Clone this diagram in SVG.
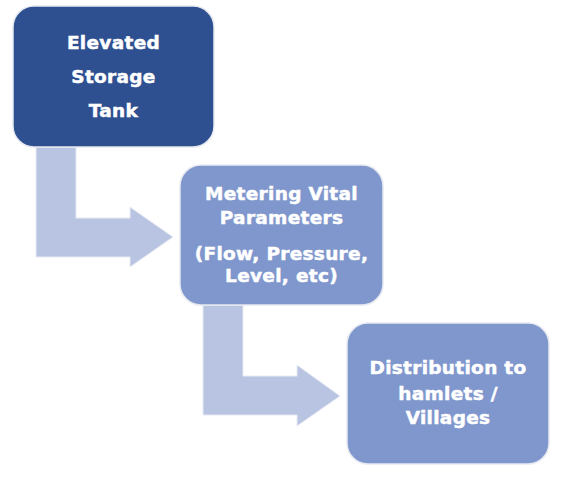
<svg xmlns="http://www.w3.org/2000/svg" width="585" height="477" viewBox="0 0 585 477">
<style>
.box{stroke:#e6e9f0;stroke-width:1.5}
.dark{fill:#2e5090}
.light{fill:#8097cd}
.arr{fill:#b9c4e2;stroke:#e8ebf3;stroke-width:1}
text{font-family:"DejaVu Sans","Liberation Sans",sans-serif;font-weight:bold;font-size:18.5px;letter-spacing:0.3px;fill:#ffffff;stroke:#ffffff;stroke-width:0.5;text-anchor:middle}
</style>
<rect width="585" height="477" fill="#ffffff"/>
<g id="connectors">
<path class="arr" d="M36,147 L76,147 L76,218 L130,218 L130,207 L173,237 L130,267 L130,257 L36,257 Z"/>
<path class="arr" d="M203,305 L243,305 L243,376 L297,376 L297,365 L340,396 L297,426 L297,415 L203,415 Z"/>
</g>
<g id="node-tank">
<rect class="box dark" x="13" y="6" width="201" height="141" rx="21"/>
<text x="113.5" y="49">Elevated</text>
<text x="113.5" y="83">Storage</text>
<text x="113.5" y="117">Tank</text>
</g>
<g id="node-metering">
<rect class="box light" x="180" y="165" width="203" height="140" rx="21"/>
<text x="281.5" y="200">Metering Vital</text>
<text x="281.5" y="224">Parameters</text>
<text x="281.5" y="260">(Flow, Pressure,</text>
<text x="281.5" y="282">Level, etc)</text>
</g>
<g id="node-distribution">
<rect class="box light" x="347" y="323" width="202" height="141" rx="21"/>
<text x="448" y="374">Distribution to</text>
<text x="448" y="400">hamlets /</text>
<text x="448" y="424">Villages</text>
</g>
</svg>
